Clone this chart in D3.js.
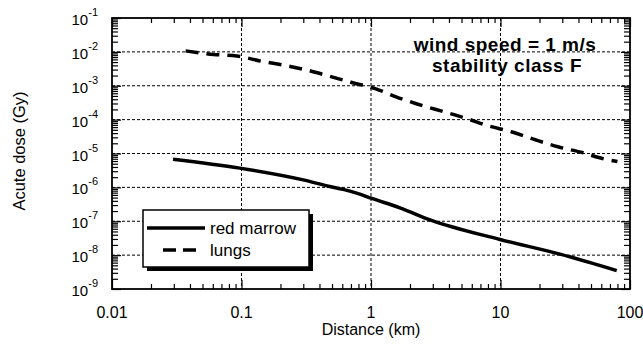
<!DOCTYPE html>
<html>
<head>
<meta charset="utf-8">
<script src="https://cdn.jsdelivr.net/npm/d3@7"></script>
<style>
  body { margin: 0; background: #fff; }
  svg { font-family: "Liberation Sans", Arial, sans-serif; }
</style>
</head>
<body>
<svg width="643" height="344"></svg>
<script>
// data
const marrowDist = [0.0296, 0.097, 0.30, 0.48, 0.61, 0.82, 1.0, 1.67, 2.86, 9.9, 28.8, 79];
const marrowDose = [6.8e-6, 3.7e-6, 1.66e-6, 1.06e-6, 8.7e-7, 6.3e-7, 4.8e-7, 2.5e-7, 1.1e-7, 2.9e-8, 1.07e-8, 3.5e-9];
const lungsDist = [0.037, 0.061, 0.092, 0.139, 0.209, 0.32, 0.47, 0.71, 1.09, 1.56, 2.27, 3.66, 5.6, 8.0, 12.3, 18.8, 27.8, 43.4, 63, 80];
const lungsDose = [1.07e-2, 8.4e-3, 7.6e-3, 5.4e-3, 4.1e-3, 2.9e-3, 1.95e-3, 1.25e-3, 8.1e-4, 4.7e-4, 2.9e-4, 1.7e-4, 1.05e-4, 6.6e-5, 4.3e-5, 2.5e-5, 1.58e-5, 1.05e-5, 6.9e-6, 5.8e-6];
const xTicks = [0.01, 0.1, 1, 10, 100];
const xTickLabels = ["0.01", "0.1", "1", "10", "100"];
const yExponents = [-1, -2, -3, -4, -5, -6, -7, -8, -9];

const svg = d3.select("svg"),
      margin = {top: 18, right: 13, bottom: 55, left: 112},
      width = 643 - margin.left - margin.right,
      height = 344 - margin.top - margin.bottom,
      g = svg.append("g").attr("transform", `translate(${margin.left},${margin.top})`);

const x = d3.scaleLog().domain([0.01, 100]).range([0, width]);
const y = d3.scaleLog().domain([1e-9, 1e-1]).range([height, 0]);

// minor tick values
const xMinor = [], yMinor = [];
for (let e = -2; e < 2; e++) for (let m = 2; m <= 9; m++) xMinor.push(m * Math.pow(10, e));
for (let e = -9; e < -1; e++) for (let m = 2; m <= 9; m++) yMinor.push(m * Math.pow(10, e));

// dashed grid at decades
g.append("g").selectAll("line.gx")
  .data(xTicks.slice(1, -1))
  .join("line")
  .attr("x1", d => x(d)).attr("x2", d => x(d))
  .attr("y1", 0).attr("y2", height)
  .attr("stroke", "#000").attr("stroke-width", 1).attr("stroke-dasharray", "3,2");

g.append("g").selectAll("line.gy")
  .data(yExponents.slice(1, -1).map(e => Math.pow(10, e)))
  .join("line")
  .attr("x1", 0).attr("x2", width)
  .attr("y1", d => y(d)).attr("y2", d => y(d))
  .attr("stroke", "#000").attr("stroke-width", 1).attr("stroke-dasharray", "3,2");

// inward ticks on all four sides
function ticks(axisFn, scale, vals, len, transform) {
  g.append("g")
    .attr("transform", transform)
    .call(axisFn(scale).tickValues(vals).tickSize(-len).tickFormat(""))
    .call(a => a.select(".domain").remove())
    .selectAll("line").attr("stroke-width", 1.2);
}
ticks(d3.axisBottom, x, xMinor, 5, `translate(0,${height})`);
ticks(d3.axisBottom, x, xTicks, 9, `translate(0,${height})`);
ticks(d3.axisTop, x, xMinor, 5, "translate(0,0)");
ticks(d3.axisTop, x, xTicks, 9, "translate(0,0)");
const yMajor = yExponents.map(e => Math.pow(10, e));
ticks(d3.axisLeft, y, yMinor, 6, "translate(0,0)");
ticks(d3.axisLeft, y, yMajor, 9, "translate(0,0)");
ticks(d3.axisRight, y, yMinor, 6, `translate(${width},0)`);
ticks(d3.axisRight, y, yMajor, 9, `translate(${width},0)`);

// frame
g.append("rect")
  .attr("width", width).attr("height", height)
  .attr("fill", "none").attr("stroke", "#000").attr("stroke-width", 1.8);

// tick labels
g.append("g").selectAll("text")
  .data(xTicks)
  .join("text")
  .attr("x", d => x(d))
  .attr("y", height + 29)
  .attr("text-anchor", "middle")
  .style("font-size", "16px")
  .text((d, i) => xTickLabels[i]);

const yl = g.append("g").selectAll("text")
  .data(yExponents)
  .join("text")
  .attr("x", -14)
  .attr("y", d => y(Math.pow(10, d)) + 7)
  .attr("text-anchor", "end")
  .style("font-size", "15px");
yl.append("tspan").text("10");
yl.append("tspan").attr("dy", -9).style("font-size", "11px").text(d => "-" + Math.abs(d));

// axis titles
svg.append("text")
  .attr("x", margin.left + width / 2)
  .attr("y", 335)
  .attr("text-anchor", "middle")
  .style("font-size", "16px")
  .text("Distance (km)");

svg.append("text")
  .attr("transform", "rotate(-90)")
  .attr("x", -151)
  .attr("y", 25)
  .attr("text-anchor", "middle")
  .style("font-size", "16.5px")
  .text("Acute dose (Gy)");

// curves
const line = d3.line()
  .x(d => x(d[0]))
  .y(d => y(d[1]))
  .curve(d3.curveMonotoneX);

g.append("path")
  .datum(marrowDist.map((d, i) => [d, marrowDose[i]]))
  .attr("d", line)
  .attr("fill", "none").attr("stroke", "#000").attr("stroke-width", 3.5);

g.append("path")
  .datum(lungsDist.map((d, i) => [d, lungsDose[i]]))
  .attr("d", line)
  .attr("fill", "none").attr("stroke", "#000").attr("stroke-width", 3.5)
  .attr("stroke-dasharray", "13,8");

// annotation
const note = svg.append("text")
  .attr("text-anchor", "middle")
  .style("font-size", "19px")
  .style("font-weight", "bold")
  .style("letter-spacing", "0.5px");
note.append("tspan").attr("x", 505).attr("y", 51).text("wind speed = 1 m/s");
note.append("tspan").attr("x", 507).attr("y", 72).text("stability class F");

// legend with drop shadow
const legend = svg.append("g").attr("transform", "translate(143,210)");
legend.append("rect")
  .attr("x", 4).attr("y", 4).attr("width", 166).attr("height", 57)
  .attr("fill", "#000");
legend.append("rect")
  .attr("width", 166).attr("height", 57)
  .attr("fill", "#fff").attr("stroke", "#000").attr("stroke-width", 1.5);

const entries = [
  {name: "red marrow", dash: null, x1: 4, x2: 62},
  {name: "lungs", dash: "13,7", x1: 20, x2: 58}
];
entries.forEach((e, i) => {
  const row = legend.append("g").attr("transform", `translate(0,${18 + i * 22})`);
  row.append("line")
    .attr("x1", e.x1).attr("x2", e.x2)
    .attr("stroke", "#000").attr("stroke-width", 3.5)
    .attr("stroke-dasharray", e.dash);
  row.append("text")
    .attr("x", 67).attr("y", 6)
    .style("font-size", "17px")
    .text(e.name);
});
</script>
</body>
</html>
